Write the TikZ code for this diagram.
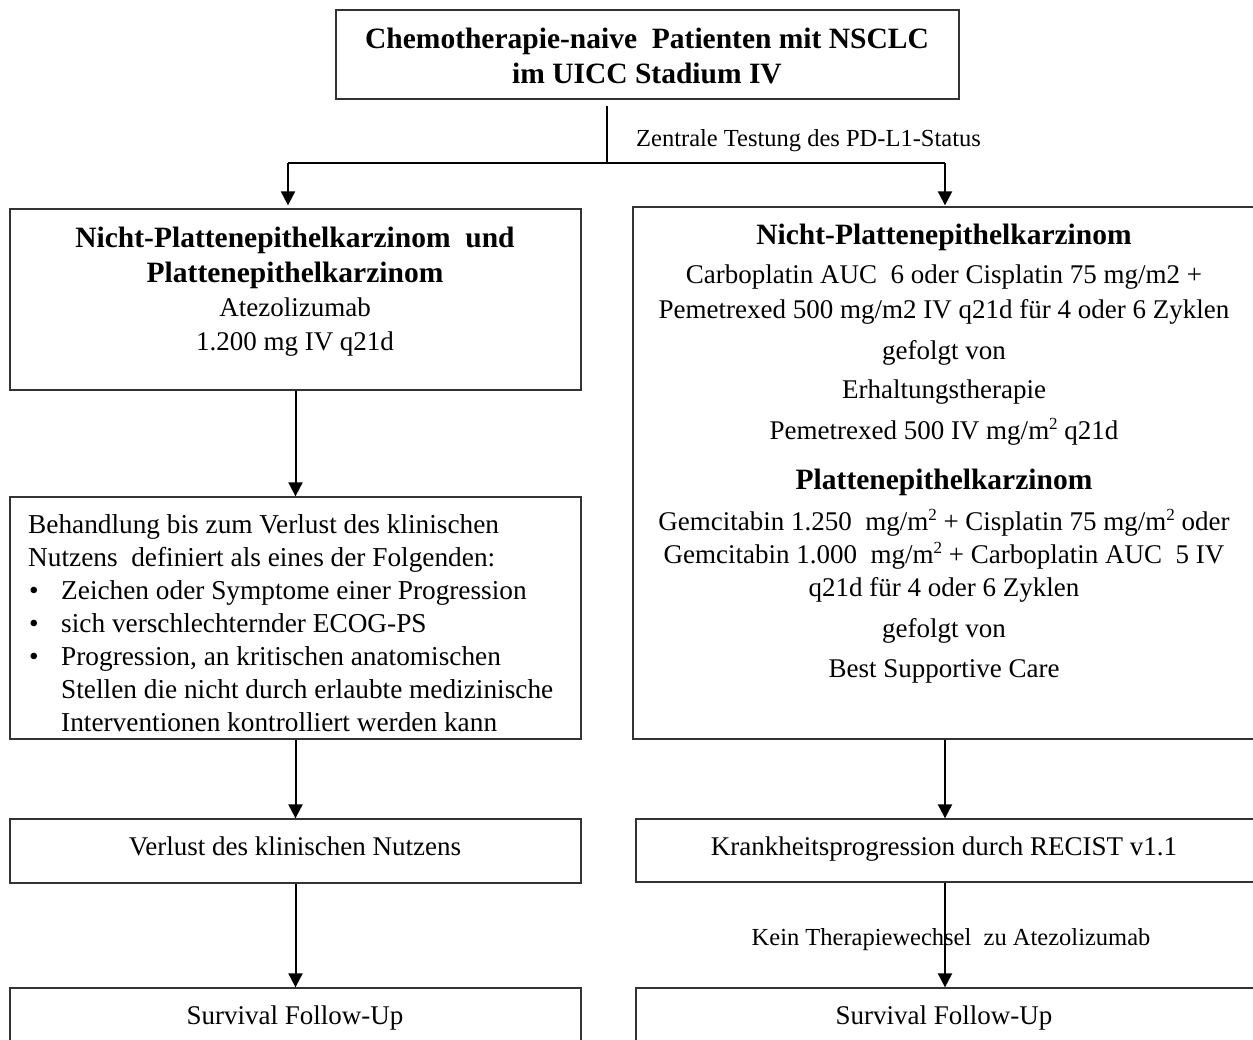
\documentclass[tikz,border=0pt]{standalone}
\usepackage{fontspec}
\setmainfont{Liberation Serif}
\usetikzlibrary{arrows.meta}
\newcommand{\msq}{\raisebox{0.36em}{\fontsize{17}{17}\selectfont 2}}
\begin{document}
\begin{tikzpicture}[x=1pt,y=-1pt,
  box/.style={draw=black!80, line width=1.3pt, inner sep=0pt, rectangle},
  conn/.style={line width=2pt, black},
  arr/.style={conn, -{Triangle[length=14pt,width=14pt]}},
  body/.style={font=\fontsize{27}{33}\selectfont, inner sep=0pt, anchor=base},
  bodyl/.style={font=\fontsize{27.3}{33}\selectfont, inner sep=0pt, anchor=base west},
  head/.style={font=\fontsize{29.5}{35}\selectfont\bfseries, inner sep=0pt, anchor=base},
  lab/.style={font=\fontsize{24.5}{30}\selectfont, inner sep=0pt, anchor=base}]
\fill[white] (0,0) rectangle (1253,1039);
\useasboundingbox (0,0) rectangle (1253,1039);

% boxes
\node[box, minimum width=623pt, minimum height=89pt]  (top) at (647.5,54.5) {};
\node[box, minimum width=571pt, minimum height=181pt] (L1)  at (295.5,299.5) {};
\node[box, minimum width=625pt, minimum height=532pt] (R1)  at (945.5,473) {};
\node[box, minimum width=571pt, minimum height=242pt] (L2)  at (295.5,618) {};
\node[box, minimum width=571pt, minimum height=64pt]  (L3)  at (295.5,851) {};
\node[box, minimum width=622pt, minimum height=63pt]  (R3)  at (947,850.5) {};
\node[box, minimum width=571pt, minimum height=60pt]  (L4)  at (295.5,1018) {};
\node[box, minimum width=622pt, minimum height=60pt]  (R4)  at (947,1018) {};

% texts: top
\node[head] (t1) at (647,48) {Chemotherapie-naive\ \ Patienten mit NSCLC};
\node[head] (t2) at (647,83) {im UICC Stadium IV};

% left box 1
\node[head] (l1a) at (295,247) {Nicht-Plattenepithelkarzinom\ \ und};
\node[head] (l1b) at (295,282) {Plattenepithelkarzinom};
\node[body] (l1c) at (295,316) {Atezolizumab};
\node[body] (l1d) at (295,350) {1.200 mg IV q21d};

% right box 1
\node[head] (r1a) at (944,244) {Nicht-Plattenepithelkarzinom};
\node[body] (r1b) at (944,283) {Carboplatin AUC\ \ 6 oder Cisplatin 75 mg/m2 +};
\node[body] (r1c) at (944,318) {Pemetrexed 500 mg/m2 IV q21d für 4 oder 6 Zyklen};
\node[body] (r1d) at (944,359) {gefolgt von};
\node[body] (r1e) at (944,398) {Erhaltungstherapie};
\node[body] (r1f) at (944,439) {Pemetrexed 500 IV mg/m\msq{} q21d};
\node[head] (r1g) at (944,489) {Plattenepithelkarzinom};
\node[body] (r1h) at (944,530) {Gemcitabin 1.250\ \ mg/m\msq{} + Cisplatin 75 mg/m\msq{} oder};
\node[body] (r1i) at (944,563) {Gemcitabin 1.000\ \ mg/m\msq{} + Carboplatin AUC\ \ 5 IV};
\node[body] (r1j) at (944,596) {q21d für 4 oder 6 Zyklen};
\node[body] (r1k) at (944,637) {gefolgt von};
\node[body] (r1l) at (944,677) {Best Supportive Care};

% left box 2
\node[bodyl] (l2a) at (28,533) {Behandlung bis zum Verlust des klinischen};
\node[bodyl] (l2b) at (28,566) {Nutzens\ \ definiert als eines der Folgenden:};
\node[bodyl] (l2c) at (29,599) {•};
\node[bodyl] (l2d) at (61,599) {Zeichen oder Symptome einer Progression};
\node[bodyl] (l2e) at (29,632) {•};
\node[bodyl] (l2f) at (61,632) {sich verschlechternder ECOG-PS};
\node[bodyl] (l2g) at (29,665) {•};
\node[bodyl] (l2h) at (61,665) {Progression, an kritischen anatomischen};
\node[bodyl] (l2i) at (61,698) {Stellen die nicht durch erlaubte medizinische};
\node[bodyl] (l2j) at (61,731) {Interventionen kontrolliert werden kann};

% lower boxes
\node[body] (l3) at (295,855) {Verlust des klinischen Nutzens};
\node[body] (r3) at (944,855) {Krankheitsprogression durch RECIST v1.1};
\node[body] (l4) at (295,1024) {Survival Follow-Up};
\node[body] (r4) at (944,1024) {Survival Follow-Up};

% connectors
\coordinate (fork) at (607,163);
\coordinate (forkL) at (288,163);
\coordinate (forkR) at (945,163);
\draw[conn] (top.south -| fork) ++(0,6) -- (fork);
\draw[conn] (forkL) -- (forkR);
\draw[arr] (forkL) -- ([yshift=3pt]forkL |- L1.north);
\draw[arr] (forkR) -- ([yshift=1pt]forkR |- R1.north);
\node[lab, anchor=base west] (labA) at (636,146) {Zentrale Testung des PD-L1-Status};

\draw[arr] (L1.south) -- (L2.north);
\draw[arr] (L2.south) -- (L3.north);
\draw[arr] (L3.south) -- (L4.north);
\draw[arr] (R1.south -| forkR) -- (R3.north -| forkR);
\draw[arr] (R3.south -| forkR) -- (R4.north -| forkR);
\node[lab] (labB) at (951,945) {Kein Therapiewechsel\ \ zu Atezolizumab};
\end{tikzpicture}
\end{document}
